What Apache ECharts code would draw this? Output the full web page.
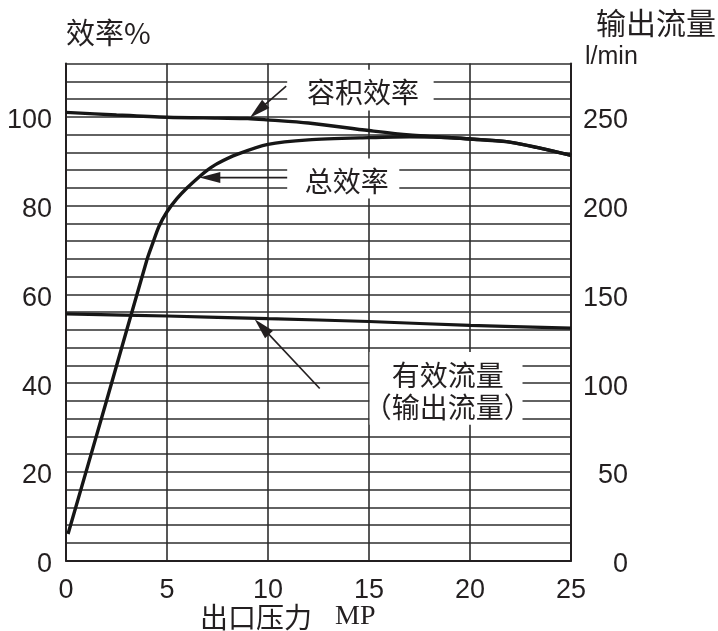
<!DOCTYPE html>
<html><head><meta charset="utf-8">
<script src="https://cdn.jsdelivr.net/npm/echarts@6/dist/echarts.min.js"></script>
<style>html,body{margin:0;padding:0;background:#fff}#c{width:718px;height:631px}</style>
</head><body><div id="c"></div>
<script>
// ---- data ----
const xTicks = [0, 5, 10, 15, 20, 25];
const effTicks = [0, 20, 40, 60, 80, 100];
const flowTicks = [0, 50, 100, 150, 200, 250];

// 容积效率 (volumetric efficiency, %)
const volP = [0, 2.5, 5, 7.5, 9, 10, 12, 15, 17, 20, 21.8, 23.3, 25];
const volE = [101.0, 100.4, 99.9, 99.7, 99.6, 99.3, 98.6, 96.9, 95.9, 95.0, 94.4, 93.1, 91.3];

// 总效率 (total efficiency, %)
const totP = [0.1, 2.0, 4.0, 4.3, 4.6, 5.0, 5.5, 6.0, 6.6, 7.0, 7.5, 8.5, 10, 12, 15, 17, 18.5, 20, 21.8, 23.3, 25];
const totE = [6.0, 35.9, 67.7, 71.6, 75.3, 78.6, 81.6, 84.0, 86.5, 88.0, 89.5, 91.6, 93.8, 94.8, 95.3, 95.5, 95.4, 95.0, 94.4, 93.1, 91.3];

// 有效流量 (effective / output flow, l/min)
const flowP = [0, 5, 10, 15, 20, 25];
const flowQ = [139.0, 137.8, 136.3, 134.7, 132.5, 131.0];

const zip = (a, b) => a.map((v, i) => [v, b[i]]);

const INK = '#231f20';
const GRIDC = '#2e2e2e';
const numFont = 'Liberation Sans, Arial, sans-serif';
const cjkFont = '"Noto Sans CJK SC", sans-serif';
const shifted = {n: {fontSize: 27, fontFamily: numFont, color: INK, padding: [8, 0, 0, 0]}};

const chart = echarts.init(document.getElementById('c'), null, {renderer: 'canvas'});
chart.setOption({
  animation: false,
  backgroundColor: '#fff',
  grid: {left: 66, right: 147, top: 63.5, bottom: 70.3, containLabel: false, outerBoundsMode: 'none'},
  xAxis: {
    type: 'value', min: 0, max: 25, interval: 5,
    axisLine: {show: true, onZero: false, lineStyle: {color: INK, width: 2}},
    axisTick: {show: false},
    splitLine: {show: true, lineStyle: {color: GRIDC, width: 1.6}},
    axisLabel: {margin: 16, fontSize: 27, fontFamily: numFont, color: INK,
      formatter: v => xTicks.includes(v) ? String(v) : ''}
  },
  yAxis: [
    {
      type: 'value', min: 0, max: 112, interval: 4, position: 'left',
      axisLine: {show: true, lineStyle: {color: INK, width: 2}},
      axisTick: {show: false},
      splitLine: {show: true, lineStyle: {color: GRIDC, width: 1.6}},
      axisLabel: {margin: 14, fontSize: 27, fontFamily: numFont, color: INK, rich: shifted,
        formatter: v => effTicks.includes(v) ? '{n|' + v + '}' : ''}
    },
    {
      type: 'value', min: 0, max: 280, interval: 10, position: 'right',
      axisLine: {show: true, lineStyle: {color: INK, width: 2}},
      axisTick: {show: false},
      splitLine: {show: false},
      axisLabel: {margin: 57, align: 'right', fontSize: 27, fontFamily: numFont, color: INK, rich: shifted,
        formatter: v => flowTicks.includes(v) ? '{n|' + v + '}' : ''}
    }
  ],
  series: [
    {name: '容积效率', type: 'line', yAxisIndex: 0, data: zip(volP, volE), showSymbol: false,
      smooth: 0.3, lineStyle: {color: '#161616', width: 3.4}, z: 3},
    {name: '总效率', type: 'line', yAxisIndex: 0, data: zip(totP, totE), showSymbol: false,
      smooth: 0.25, lineStyle: {color: '#161616', width: 3.4}, z: 3},
    {name: '有效流量', type: 'line', yAxisIndex: 1, data: zip(flowP, flowQ), showSymbol: false,
      smooth: 0.3, lineStyle: {color: '#161616', width: 3.2}, z: 3}
  ]
});

// ---- annotations (in data coordinates of the left axis) ----
const notes = [
  {text: '容积效率', c: [14.7, 105.4], box: [10.95, 110.6, 18.2, 101.4], from: [10.9, 106.9], to: [9.1, 99.8]},
  {text: '总效率', c: [13.9, 85.4], box: [10.95, 90.6, 16.5, 81.6], from: [10.95, 86.3], to: [6.6, 86.3]},
  {text: '有效流量\n（输出流量）', c: [18.9, 38.1], box: [15.03, 47.0, 22.6, 30.6], from: [12.56, 38.8], to: [9.34, 54.4]}
];
const px = p => chart.convertToPixel({xAxisIndex: 0, yAxisIndex: 0}, p);
const g = [];
notes.forEach(n => {
  const a = px([n.box[0], n.box[1]]), b = px([n.box[2], n.box[3]]);
  g.push({type: 'rect', z: 50, shape: {x: a[0], y: a[1], width: b[0] - a[0], height: b[1] - a[1]},
    style: {fill: '#fff'}});
  const c = px(n.c);
  g.push({type: 'text', z: 60, x: c[0], y: c[1], style: {text: n.text, fontSize: 28, fontFamily: cjkFont,
    fill: INK, align: 'center', verticalAlign: 'middle', lineHeight: 32}});
  const s = px(n.from), t = px(n.to);
  const dx = t[0] - s[0], dy = t[1] - s[1], len = Math.hypot(dx, dy);
  const ux = dx / len, uy = dy / len, L = 21, W = 11;
  const bx = t[0] - ux * L, by = t[1] - uy * L;
  g.push({type: 'line', z: 60, shape: {x1: s[0], y1: s[1], x2: bx + ux * 4, y2: by + uy * 4},
    style: {stroke: INK, lineWidth: 1.6}});
  g.push({type: 'polygon', z: 60, shape: {points: [t, [bx - uy * W / 2, by + ux * W / 2], [bx + uy * W / 2, by - ux * W / 2]]},
    style: {fill: INK}});
});
// axis titles
g.push({type: 'text', z: 60, x: 66, y: 33, style: {text: '效率%', fontSize: 29, fontFamily: cjkFont, fill: INK, align: 'left', verticalAlign: 'middle'}});
g.push({type: 'text', z: 60, x: 596, y: 23, style: {text: '输出流量', fontSize: 30, fontFamily: cjkFont, fill: INK, align: 'left', verticalAlign: 'middle'}});
g.push({type: 'text', z: 60, x: 585, y: 57, style: {text: 'l/min', fontSize: 25, fontFamily: numFont, fill: INK, align: 'left', verticalAlign: 'middle'}});
g.push({type: 'text', z: 60, x: 200, y: 617, style: {text: '出口压力', fontSize: 28, fontFamily: cjkFont, fill: INK, align: 'left', verticalAlign: 'middle'}});
g.push({type: 'text', z: 60, x: 335, y: 617, style: {text: 'MP', fontSize: 28, fontFamily: 'Liberation Serif, serif', fill: INK, align: 'left', verticalAlign: 'middle'}});
chart.setOption({graphic: g});
</script>
</body></html>
